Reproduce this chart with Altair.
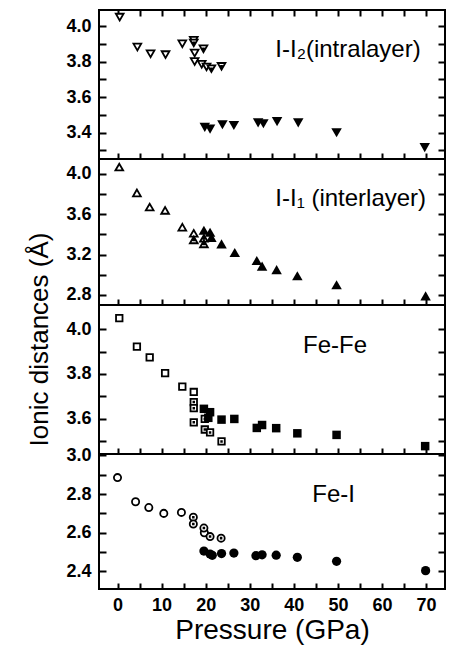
import altair as alt
import pandas as pd

FONT = "Liberation Sans"
W = 346

# ---- shared x axis ----
X_DOMAIN = [-4.2, 74.3]
X_TICKS = [0, 5, 10, 15, 20, 25, 30, 35, 40, 45, 50, 55, 60, 65, 70]
X_LABELS = [0, 10, 20, 30, 40, 50, 60, 70]

# ---- panel 1: I-I2 (intralayer), triangle-down ----
p1_open_x = [0.5, 4.5, 7.5, 10.9, 14.7, 17.5, 17.5, 19.1, 20.2]
p1_open_y = [4.05, 3.882, 3.844, 3.839, 3.90, 3.848, 3.80, 3.785, 3.77]
p1_dot_x = [17.3, 17.3, 19.5, 21.3, 23.6]
p1_dot_y = [3.92, 3.905, 3.872, 3.76, 3.773]
p1_fill_x = [19.8, 21.0, 23.8, 26.4, 31.9, 33.1, 36.2, 41.0, 49.7, 69.7]
p1_fill_y = [3.43, 3.42, 3.445, 3.44, 3.455, 3.45, 3.462, 3.455, 3.40, 3.316]
p1_domain = [3.252, 4.09]
p1_major = [3.4, 3.6, 3.8, 4.0]
p1_minor = [3.3, 3.4, 3.5, 3.6, 3.7, 3.8, 3.9, 4.0]

# ---- panel 2: I-I1 (interlayer), triangle-up ----
p2_open_x = [0.4, 4.4, 7.3, 10.8, 14.7, 17.3]
p2_open_y = [4.066, 3.81, 3.67, 3.637, 3.47, 3.41]
p2_dot_x = [17.3, 19.6, 19.6]
p2_dot_y = [3.345, 3.36, 3.305]
p2_fill_x = [19.6, 21.0, 21.3, 23.6, 26.6, 31.6, 32.8, 36.1, 40.8, 49.7, 69.9]
p2_fill_y = [3.44, 3.42, 3.37, 3.305, 3.22, 3.14, 3.085, 3.05, 2.99, 2.90, 2.79]
p2_domain = [2.70, 4.146]
p2_major = [2.8, 3.2, 3.6, 4.0]
p2_minor = [2.8, 3.0, 3.2, 3.4, 3.6, 3.8, 4.0]

# ---- panel 3: Fe-Fe, square ----
p3_open_x = [0.4, 4.4, 7.3, 10.8, 14.7, 17.3]
p3_open_y = [4.049, 3.922, 3.874, 3.804, 3.744, 3.72]
p3_dot_x = [17.3, 17.3, 17.3, 19.8, 19.8, 21.0, 23.6]
p3_dot_y = [3.675, 3.648, 3.585, 3.60, 3.553, 3.54, 3.50]
p3_fill_x = [19.6, 21.0, 20.6, 23.6, 26.5, 31.6, 32.8, 36.0, 40.8, 49.7, 69.8]
p3_fill_y = [3.645, 3.63, 3.605, 3.597, 3.60, 3.56, 3.573, 3.559, 3.536, 3.529, 3.479]
p3_domain = [3.444, 4.107]
p3_major = [3.6, 3.8, 4.0]
p3_minor = [3.5, 3.6, 3.7, 3.8, 3.9, 4.0]

# ---- panel 4: Fe-I, circle ----
p4_open_x = [0.0, 4.1, 7.1, 10.5, 14.5, 19.7]
p4_open_y = [2.885, 2.76, 2.73, 2.70, 2.705, 2.60]
p4_dot_x = [17.2, 17.2, 19.6, 21.0, 23.5]
p4_dot_y = [2.68, 2.645, 2.624, 2.58, 2.572]
p4_fill_x = [19.6, 21.0, 21.5, 23.6, 26.4, 31.4, 32.8, 36.0, 40.8, 49.7, 69.9]
p4_fill_y = [2.505, 2.49, 2.483, 2.492, 2.495, 2.481, 2.486, 2.484, 2.473, 2.452, 2.404]
p4_domain = [2.309, 3.007]
p4_major = [2.4, 2.6, 2.8, 3.0]
p4_minor = [2.4, 2.5, 2.6, 2.7, 2.8, 2.9, 3.0]

# ---- panel labels ----
label_text = ["I-I\u2082(intralayer)", "I-I\u2081 (interlayer)", "Fe-Fe", "Fe-I"]
label_x = [35.8, 35.8, 42.1, 44.2]
label_y = [3.826, 3.678, 3.893, 2.757]

# open symbols with a centre dot (unit-box SVG paths)
DOT = "M-0.1,-0.1L0.1,-0.1L0.1,0.1L-0.1,0.1Z"
DOTTED_SHAPES = {
    "triangle-down": "M-1,-0.866L1,-0.866L0,0.866Z" + DOT,
    "triangle-up": "M0,-0.866L1,0.866L-1,0.866Z" + DOT,
    "square": "M-1,-1L1,-1L1,1L-1,1Z" + DOT,
    "circle": "M-1,0A1,1,0,1,1,1,0A1,1,0,1,1,-1,0Z" + DOT,
}

IN_Y = {"expr": "-7"}
IN_X = {"expr": "-6"}


def tick_axis(orient, values, size):
    return alt.Axis(orient=orient, values=values, labels=False, domain=False, ticks=True,
                    tickSize=size, tickWidth=2, tickColor="black", title=None)


def make_panel(ox, oy, dx, dy, fx, fy, shape, open_size, fill_size, ydom, ymaj, ymin,
               H, li, is_top=False, is_bottom=False, ytitle=False):
    xs = alt.Scale(domain=X_DOMAIN, nice=False, zero=False)
    ys = alt.Scale(domain=ydom, nice=False, zero=False)
    df_open = pd.DataFrame({"p": ox, "d": oy})
    df_dot = pd.DataFrame({"p": dx, "d": dy})
    df_fill = pd.DataFrame({"p": fx, "d": fy})
    df_lab = pd.DataFrame({"p": [label_x[li]], "d": [label_y[li]], "t": [label_text[li]]})

    # layer 1: open markers -> label axes
    if is_bottom:
        xa1 = alt.Axis(orient="bottom", values=X_LABELS, format="d", ticks=False,
                       domain=False, labelPadding=7, title="Pressure (GPa)",
                       titleFontSize=28, titlePadding=2, titleFontWeight="normal")
    else:
        xa1 = None
    ya_kwargs = dict(orient="left", values=ymaj, format=".1f", ticks=False,
                     domain=False, labelPadding=8)
    if ytitle:
        ya1 = alt.Axis(title="Ionic distances (\u00c5)", titleFontSize=26, titlePadding=13,
                       titleY=34, titleFontWeight="normal", **ya_kwargs)
    else:
        ya1 = alt.Axis(title=None, **ya_kwargs)

    open_layer = alt.Chart(df_open).mark_point(
        shape=shape, filled=True, fill="white", stroke="black", strokeWidth=1.8,
        size=open_size, opacity=1
    ).encode(
        x=alt.X("p:Q", scale=xs, axis=xa1),
        y=alt.Y("d:Q", scale=ys, axis=ya1),
    )

    # layer 2: open markers with centre dot -> inward ticks left & bottom
    dot_layer = alt.Chart(df_dot).mark_point(
        shape=DOTTED_SHAPES[shape], filled=True, fill="white", stroke="black",
        strokeWidth=1.8, size=open_size, opacity=1
    ).encode(
        x=alt.X("p:Q", scale=xs, axis=tick_axis("bottom", X_TICKS, IN_X)),
        y=alt.Y("d:Q", scale=ys, axis=tick_axis("left", ymin, IN_Y)),
    )

    # layer 3: filled markers -> inward ticks right (and top for the top panel)
    fill_layer = alt.Chart(df_fill).mark_point(
        shape=shape, filled=True, color="black", size=fill_size, opacity=1
    ).encode(
        x=alt.X("p:Q", scale=xs, axis=tick_axis("top", X_TICKS, IN_X) if is_top else None),
        y=alt.Y("d:Q", scale=ys, axis=tick_axis("right", ymin, IN_Y)),
    )

    text_layer = alt.Chart(df_lab).mark_text(
        font=FONT, fontSize=24, align="left", baseline="alphabetic", color="black"
    ).encode(
        x=alt.X("p:Q", scale=xs, axis=None),
        y=alt.Y("d:Q", scale=ys, axis=None),
        text="t:N",
    )

    return alt.layer(open_layer, dot_layer, fill_layer, text_layer).resolve_scale(
        x="independent", y="independent"
    ).resolve_axis(
        x="independent", y="independent"
    ).properties(width=W, height=H)


p1 = make_panel(p1_open_x, p1_open_y, p1_dot_x, p1_dot_y, p1_fill_x, p1_fill_y,
                "triangle-down", 60, 110, p1_domain, p1_major, p1_minor, 149, 0, is_top=True)
p2 = make_panel(p2_open_x, p2_open_y, p2_dot_x, p2_dot_y, p2_fill_x, p2_fill_y,
                "triangle-up", 60, 110, p2_domain, p2_major, p2_minor, 146, 1)
p3 = make_panel(p3_open_x, p3_open_y, p3_dot_x, p3_dot_y, p3_fill_x, p3_fill_y,
                "square", 42, 72, p3_domain, p3_major, p3_minor, 149, 2, ytitle=True)
p4 = make_panel(p4_open_x, p4_open_y, p4_dot_x, p4_dot_y, p4_fill_x, p4_fill_y,
                "circle", 52, 85, p4_domain, p4_major, p4_minor, 135, 3, is_bottom=True)

chart = alt.vconcat(p1, p2, p3, p4, spacing=0, bounds="flush").properties(
    padding={"left": 17, "top": 0, "right": 0, "bottom": 0}
).configure_view(
    stroke="black", strokeWidth=2
).configure_axis(
    grid=False, labelFont=FONT, titleFont=FONT, labelFontSize=18, labelFontWeight="bold",
    labelColor="black", titleColor="black", tickColor="black", tickWidth=2
)

chart.save("out.html", embed_options={"renderer": "svg", "actions": False})
